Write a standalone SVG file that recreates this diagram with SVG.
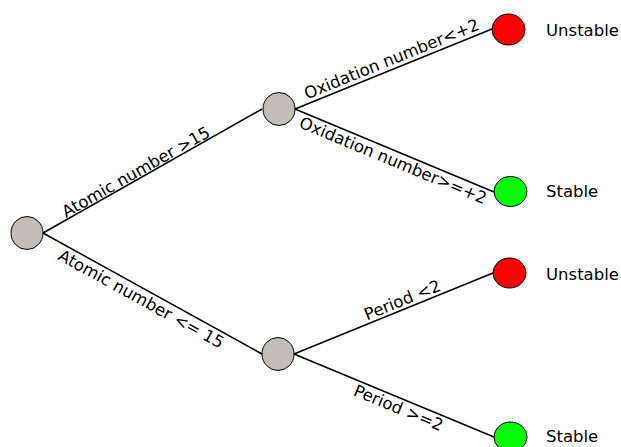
<svg xmlns="http://www.w3.org/2000/svg" width="621" height="447" viewBox="0 0 621 447">
<style>
.node{stroke:#000;stroke-width:1}
.inner{fill:#c4bcb7}
.bad{fill:#ff0000}
.good{fill:#00ff00}
.edge{stroke:#000;stroke-width:1.5;fill:none}
text{font-family:"DejaVu Sans","Liberation Sans",sans-serif;font-size:16.5px;fill:#000}
</style>
<rect width="621" height="447" fill="#fff"/>
<g id="connectors">
<line class="edge" x1="43" y1="233" x2="262" y2="109"/>
<line class="edge" x1="43" y1="233" x2="262" y2="354"/>
<line class="edge" x1="295" y1="109" x2="492" y2="29"/>
<line class="edge" x1="295" y1="109" x2="494" y2="192"/>
<line class="edge" x1="294" y1="354" x2="493" y2="273"/>
<line class="edge" x1="294" y1="354" x2="494" y2="437"/>
<text transform="translate(66,218) rotate(-29.5)">Atomic number &gt;15</text>
<text transform="translate(57,259) rotate(28.9)">Atomic number &lt;= 15</text>
<text transform="translate(307,99.5) rotate(-22.1)">Oxidation number&lt;+2</text>
<text transform="translate(298,127) rotate(22.6)">Oxidation number&gt;=+2</text>
<text transform="translate(367,320.5) rotate(-22.05)">Period &lt;2</text>
<text transform="translate(352.5,395) rotate(22.5)">Period &gt;=2</text>
</g>
<g id="root"><ellipse class="node inner" cx="27" cy="233" rx="16" ry="16.5"/></g>
<g id="atomic-gt-15"><ellipse class="node inner" cx="279" cy="109" rx="16" ry="16.5"/></g>
<g id="atomic-le-15"><ellipse class="node inner" cx="278" cy="354" rx="16" ry="16.5"/></g>
<g id="leaf-1"><ellipse class="node bad" cx="508.5" cy="29.5" rx="16.5" ry="15.5"/><text x="546" y="36">Unstable</text></g>
<g id="leaf-2"><ellipse class="node good" cx="510.5" cy="191.5" rx="16.5" ry="15"/><text x="546" y="197">Stable</text></g>
<g id="leaf-3"><ellipse class="node bad" cx="509.5" cy="273" rx="16.5" ry="15"/><text x="546" y="280">Unstable</text></g>
<g id="leaf-4"><ellipse class="node good" cx="510.5" cy="437" rx="16.5" ry="15"/><text x="546" y="442">Stable</text></g>
</svg>
